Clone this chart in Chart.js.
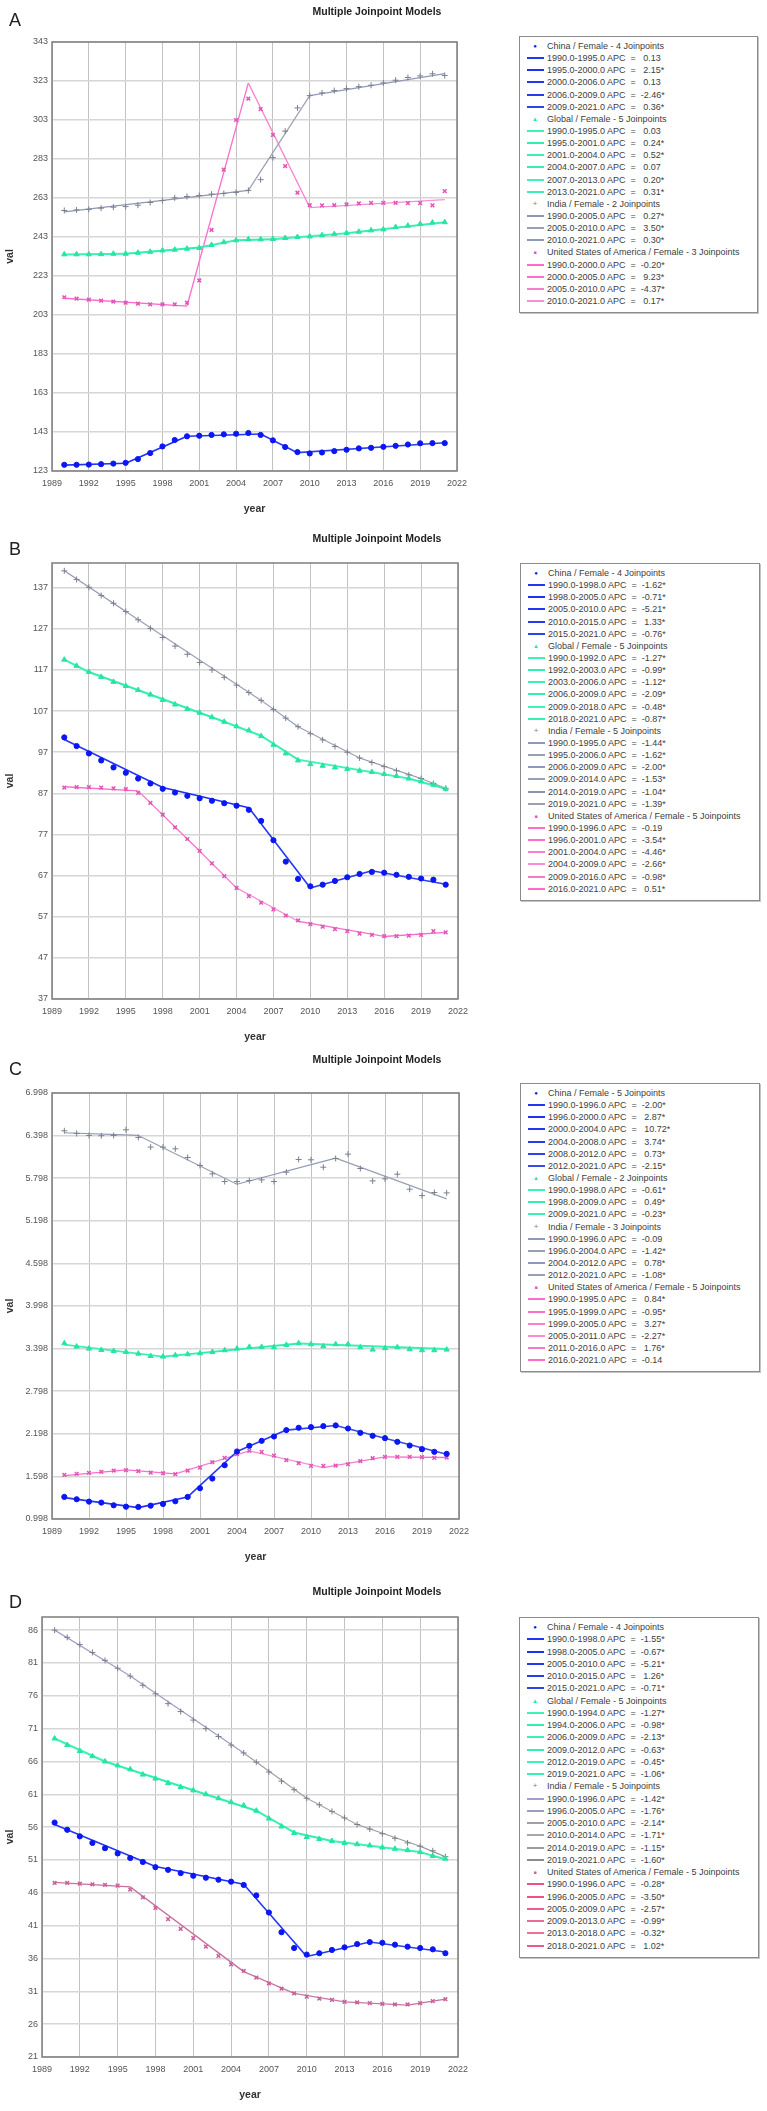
<!DOCTYPE html>
<html>
<head>
<meta charset="utf-8">
<script src="https://cdn.jsdelivr.net/npm/chart.js@4.4.1/dist/chart.umd.min.js"></script>
<style>
body { margin: 0; width: 767px; height: 2111px; background: #fff; position: relative; overflow: hidden;
       font-family: "Liberation Sans", Arial, sans-serif; }
.panel { position: absolute; left: 0; width: 767px; }
.panel canvas { position: absolute; left: 0; top: 0; }
.letter { position: absolute; left: 9px; font-size: 18px; line-height: 18px; color: #222; }
.title { position: absolute; left: 277px; width: 200px; text-align: center; font-weight: bold;
         font-size: 10.5px; line-height: 12px; color: #222; }
.legend { position: absolute; border: 1px solid #8c8c8c; box-shadow: 1px 1px 0 #c4c4c4; background: #fff;
          padding: 3px 0 5px 0; }
.row { position: relative; font-size: 9px; color: #404040; white-space: pre; padding-left: 27px; }
.sw { position: absolute; left: 7px; width: 17px; height: 2px; }
.mk { position: absolute; left: 11px; width: 8px; top: 0; text-align: center; }
</style>
</head>
<body>
<script>
// ---------------- DATA ----------------

const years = [1990,1991,1992,1993,1994,1995,1996,1997,1998,1999,2000,2001,2002,2003,2004,2005,
               2006,2007,2008,2009,2010,2011,2012,2013,2014,2015,2016,2017,2018,2019,2020,2021];
const xTicks = [1989,1992,1995,1998,2001,2004,2007,2010,2013,2016,2019,2022];
const seriesNames = ["China", "Global", "India", "United States of America"];

// A
const aYTicks = [123,143,163,183,203,223,243,263,283,303,323,343];
const aYRange = [123, 343];
const aChina = [126.2,126.2,126.3,126.5,126.8,127.2,129.1,132.2,135.6,138.9,140.8,141.1,141.5,141.8,142.1,142.5,
                141.5,138.7,135.3,132.7,132.0,132.5,133.2,133.9,134.6,134.9,135.4,135.9,136.6,137.2,137.3,137.3];
const aGlobal = [234.1,234.1,234.1,234.2,234.4,234.4,234.9,235.4,236.1,236.5,237.0,237.4,238.9,240.3,241.3,241.8,
                 241.8,242.0,242.5,243.0,243.3,243.9,244.5,245.0,245.7,246.4,246.9,248.1,248.8,249.7,250.4,250.6];
const aIndia = [256.6,256.9,257.2,257.8,258.3,258.6,259.3,260.7,261.7,263.1,263.8,264.3,265.0,265.3,265.9,266.9,
                272.4,283.7,297.3,309.2,315.5,316.9,318.1,319.1,320.1,320.8,322.0,323.4,324.8,325.6,326.7,325.8];
const aUSA = [212.1,211.4,210.9,210.4,209.9,209.3,208.8,208.5,208.5,208.5,209.3,220.7,246.6,277.5,303.0,314.0,
              308.6,295.4,279.4,265.7,259.3,259.2,259.3,259.7,260.2,260.5,260.5,260.5,260.4,260.4,259.2,266.5];
const aChinaFitX = [1990,1995,2000,2006,2009,2021];
const aChinaFitY = [126.0,127.0,140.8,142.0,132.4,137.5];
const aGlobalFitX = [1990,1995,2001,2004,2007,2013,2021];
const aGlobalFitY = [234.0,234.4,237.6,241.3,241.9,244.9,250.6];
const aIndiaFitX = [1990,2005,2010,2021];
const aIndiaFitY = [255.9,266.9,315.5,326.8];
const aUSAFitX = [1990,2000,2005,2010,2021];
const aUSAFitY = [211.6,207.6,322.0,258.1,262.2];
const aChinaApc = ["0.13","2.15*","0.13","-2.46*","0.36*"];
const aGlobalApc = ["0.03","0.24*","0.52*","0.07","0.20*","0.31*"];
const aIndiaApc = ["0.27*","3.50*","0.30*"];
const aUSAApc = ["-0.20*","9.23*","-4.37*","0.17*"];

// B
const bYTicks = [37,47,57,67,77,87,97,107,117,127,137];
const bYRange = [37, 143];
const bChina = [100.6,98.5,96.7,95.0,93.3,92.0,90.6,89.4,88.1,87.2,86.4,85.8,85.2,84.6,84.0,83.0,
                80.3,75.6,70.4,66.2,64.4,64.8,65.7,66.6,67.4,67.9,67.7,67.2,66.7,66.3,66.0,64.8];
const bGlobal = [119.5,118.0,116.5,115.3,114.1,113.1,112.1,111.0,109.7,108.6,107.5,106.6,105.5,104.4,103.3,102.3,
                 100.9,98.8,96.7,95.0,94.1,93.7,93.3,92.9,92.5,92.2,91.7,91.2,90.6,89.9,89.1,88.1];
const bIndia = [141.1,139.0,137.1,135.1,133.2,131.2,129.2,127.1,124.9,122.8,120.8,118.8,117.0,115.2,113.3,111.5,
                109.6,107.4,105.3,103.2,101.5,100.0,98.4,97.0,95.6,94.5,93.5,92.5,91.5,90.6,89.4,88.2];
const bUSA = [88.4,88.5,88.5,88.4,88.2,88.0,87.1,84.7,81.8,78.7,75.9,73.0,70.0,66.9,64.0,62.0,
              60.4,58.8,57.3,56.1,55.2,54.6,54.0,53.5,52.9,52.6,52.3,52.3,52.4,52.6,53.5,53.2];
const bChinaFitX = [1990,1998,2005,2010,2015,2021];
const bChinaFitY = [100.1,88.4,83.5,64.0,68.2,64.9];
const bGlobalFitX = [1990,1992,2003,2006,2009,2018,2021];
const bGlobalFitY = [119.5,116.5,104.4,101.0,95.2,90.6,88.1];
const bIndiaFitX = [1990,1995,2006,2009,2014,2019,2021];
const bIndiaFitY = [141.1,131.2,109.6,103.2,95.6,90.6,88.2];
const bUSAFitX = [1990,1996,2001,2004,2009,2016,2021];
const bUSAFitY = [88.6,87.6,73.0,64.0,55.9,52.2,53.2];
const bChinaApc = ["-1.62*","-0.71*","-5.21*","1.33*","-0.76*"];
const bGlobalApc = ["-1.27*","-0.99*","-1.12*","-2.09*","-0.48*","-0.87*"];
const bIndiaApc = ["-1.44*","-1.62*","-2.00*","-1.53*","-1.04*","-1.39*"];
const bUSAApc = ["-0.19","-3.54*","-4.46*","-2.66*","-0.98*","0.51*"];

// C
const cYTicks = [0.998,1.598,2.198,2.798,3.398,3.998,4.598,5.198,5.798,6.398,6.998];
const cYRange = [0.998, 6.998];
const cChina = [1.309,1.276,1.243,1.229,1.191,1.172,1.168,1.186,1.210,1.248,1.309,1.431,1.568,1.756,1.949,2.029,
                2.099,2.160,2.250,2.283,2.292,2.306,2.316,2.273,2.212,2.170,2.137,2.085,2.033,1.982,1.944,1.916];
const cGlobal = [3.473,3.426,3.398,3.379,3.365,3.351,3.327,3.294,3.285,3.304,3.318,3.332,3.351,3.375,3.398,3.422,
                 3.422,3.417,3.450,3.473,3.459,3.431,3.459,3.459,3.417,3.384,3.403,3.417,3.389,3.375,3.375,3.384];
const cIndia = [6.466,6.429,6.400,6.396,6.400,6.480,6.372,6.236,6.236,6.212,6.090,5.977,5.859,5.751,5.751,5.765,
                5.774,5.751,5.883,6.062,6.057,5.953,6.076,6.137,5.935,5.760,5.789,5.854,5.643,5.553,5.596,5.591];
const cUSA = [1.619,1.633,1.648,1.662,1.681,1.685,1.671,1.652,1.643,1.629,1.681,1.723,1.798,1.859,1.911,1.958,
              1.944,1.892,1.826,1.784,1.746,1.746,1.751,1.770,1.812,1.854,1.873,1.873,1.873,1.869,1.859,1.864];
const cChinaFitX = [1990,1996,2000,2004,2008,2012,2021];
const cChinaFitY = [1.299,1.158,1.309,1.949,2.250,2.316,1.911];
const cGlobalFitX = [1990,1998,2009,2021];
const cGlobalFitY = [3.454,3.285,3.469,3.393];
const cIndiaFitX = [1990,1996,2004,2012,2021];
const cIndiaFitY = [6.438,6.400,5.713,6.080,5.506];
const cUSAFitX = [1990,1995,1999,2005,2011,2016,2021];
const cUSAFitY = [1.610,1.690,1.633,1.958,1.723,1.873,1.864];
const cChinaApc = ["-2.00*","2.87*","10.72*","3.74*","0.73*","-2.15*"];
const cGlobalApc = ["-0.61*","0.49*","-0.23*"];
const cIndiaApc = ["-0.09","-1.42*","0.78*","-1.08*"];
const cUSAApc = ["0.84*","-0.95*","3.27*","-2.27*","1.76*","-0.14"];

// D
const dYTicks = [21,26,31,36,41,46,51,56,61,66,71,76,81,86];
const dYRange = [21, 88];
const dChina = [56.7,55.6,54.6,53.6,52.8,52.0,51.3,50.7,49.9,49.5,49.0,48.6,48.3,48.0,47.7,47.2,
                45.6,43.0,40.0,37.6,36.6,36.8,37.3,37.7,38.2,38.5,38.4,38.1,37.8,37.6,37.4,36.8];
const dGlobal = [69.5,68.5,67.6,66.8,66.0,65.4,64.8,64.0,63.4,62.7,62.1,61.6,61.0,60.4,59.8,59.3,
                 58.5,57.3,56.1,55.1,54.5,54.2,53.9,53.6,53.4,53.2,52.9,52.7,52.5,52.2,51.6,51.2];
const dIndia = [86.0,84.9,83.8,82.6,81.4,80.2,79.0,77.6,76.3,74.8,73.6,72.3,71.0,69.8,68.5,67.3,
                65.9,64.4,63.0,61.7,60.4,59.4,58.4,57.4,56.4,55.7,55.0,54.3,53.6,53.1,52.4,51.5];
const dUSA = [47.5,47.5,47.4,47.3,47.2,47.1,46.5,45.3,43.7,42.0,40.5,39.1,37.8,36.4,35.1,34.1,
              33.1,32.2,31.4,30.7,30.2,29.9,29.7,29.4,29.3,29.2,29.1,29.0,29.0,29.2,29.5,29.8];
const dChinaFitX = [1990,1998,2005,2010,2015,2021];
const dChinaFitY = [56.4,50.0,47.3,36.3,38.5,37.0];
const dGlobalFitX = [1990,1994,2006,2009,2012,2019,2021];
const dGlobalFitY = [69.5,66.0,58.5,55.2,53.9,52.2,51.1];
const dIndiaFitX = [1990,1996,2005,2010,2014,2019,2021];
const dIndiaFitY = [86.0,79.0,67.3,60.4,56.4,53.1,51.5];
const dUSAFitX = [1990,1996,2005,2009,2013,2018,2021];
const dUSAFitY = [47.6,46.9,34.0,30.7,29.4,28.9,29.8];
const dChinaApc = ["-1.55*","-0.67*","-5.21*","1.26*","-0.71*"];
const dGlobalApc = ["-1.27*","-0.98*","-2.13*","-0.63*","-0.45*","-1.06*"];
const dIndiaApc = ["-1.42*","-1.76*","-2.14*","-1.71*","-1.15*","-1.60*"];
const dUSAApc = ["-0.28*","-3.50*","-2.57*","-0.99*","-0.32*","1.02*"];

// ---------------- STYLE ----------------

const CW = 480;
const layoutOf = {
  A: { top: 0,    h: 530, plot: [52, 42, 457, 471], yearPad: 15, titleY: 11.3, letterY: 11.2, legend: [519, 36, 239], rowH: 12.15 },
  B: { top: 530,  h: 530, plot: [52, 33, 458, 469], yearPad: 17, titleY: 8,    letterY: 9.7,  legend: [520, 33, 240], rowH: 12.15 },
  C: { top: 1060, h: 530, plot: [52, 33, 459, 459], yearPad: 27, titleY: -1.5, letterY: -0.3, legend: [520, 23, 240], rowH: 12.15 },
  D: { top: 1590, h: 521, plot: [42, 27, 458, 467], yearPad: 10, titleY: 1,    letterY: 2.7,  legend: [519, 27, 240], rowH: 12.25 }
};

const markStyle = [
  { pointStyle: "circle",   radius: 2.6, width: 1 },
  { pointStyle: "triangle", radius: 3,   width: 1 },
  { pointStyle: "cross",    radius: 3,   width: 1 },
  { pointStyle: "crossRot", radius: 2.6, width: 1.5 }
];
const lineWidths = [1.6, 2, 1.2, 1.3];
const glyphs = ["\u25CF", "\u25B2", "+", "\u25A0"];
const glyphSize = ["6px", "6px", "8px", "5px"];

const blues = ["#2436f2", "#1f30f5", "#2436f2", "#2a3bee", "#3142e8", "#3a4ae4"];
const mints = ["#3df2b6", "#30f0b0", "#3af0b4", "#35eeb0", "#3ff2b8", "#3aefb2"];
const greys = ["#8f97b1", "#9aa0b2", "#8e9ab8", "#9aa0b4", "#8c92aa", "#9aa0b0"];
const pinks = ["#ff6acb", "#fb6fcc", "#f77fce", "#f590d6", "#f27ccc", "#ff6acb"];
const roses = ["#f0508a", "#f0508a", "#ee5e8a", "#e86a9a", "#f0709c", "#ee5a8a"];
const mauves = ["#c8709e", "#c8709e", "#c4789f", "#c27ca4", "#c67aa2", "#c8709e"];
const greysD = ["#a0a0c8", "#9c9cc4", "#a0a0a0", "#a8a8a8", "#9c9c9c", "#8c8c8c"];

// ---------------- PANELS ----------------

const panels = [
  { id: "A", yTicks: aYTicks, yRange: aYRange,
    obs: [aChina, aGlobal, aIndia, aUSA],
    fitX: [aChinaFitX, aGlobalFitX, aIndiaFitX, aUSAFitX],
    fitY: [aChinaFitY, aGlobalFitY, aIndiaFitY, aUSAFitY],
    apc: [aChinaApc, aGlobalApc, aIndiaApc, aUSAApc],
    marks: ["#0b17f2", "#26e6a0", "#7c7f8f", "#e055b5"],
    segs: [blues, mints, greys, pinks], lines: [blues, mints, greys, pinks] },
  { id: "B", yTicks: bYTicks, yRange: bYRange,
    obs: [bChina, bGlobal, bIndia, bUSA],
    fitX: [bChinaFitX, bGlobalFitX, bIndiaFitX, bUSAFitX],
    fitY: [bChinaFitY, bGlobalFitY, bIndiaFitY, bUSAFitY],
    apc: [bChinaApc, bGlobalApc, bIndiaApc, bUSAApc],
    marks: ["#0b17f2", "#26e6a0", "#7c7f8f", "#e055b5"],
    segs: [blues, mints, greys, pinks], lines: [blues, mints, greys, pinks] },
  { id: "C", yTicks: cYTicks, yRange: cYRange,
    obs: [cChina, cGlobal, cIndia, cUSA],
    fitX: [cChinaFitX, cGlobalFitX, cIndiaFitX, cUSAFitX],
    fitY: [cChinaFitY, cGlobalFitY, cIndiaFitY, cUSAFitY],
    apc: [cChinaApc, cGlobalApc, cIndiaApc, cUSAApc],
    marks: ["#0b17f2", "#26e6a0", "#7c7f8f", "#e055b5"],
    segs: [blues, mints, greys, pinks], lines: [blues, mints, greys, pinks] },
  { id: "D", yTicks: dYTicks, yRange: dYRange,
    obs: [dChina, dGlobal, dIndia, dUSA],
    fitX: [dChinaFitX, dGlobalFitX, dIndiaFitX, dUSAFitX],
    fitY: [dChinaFitY, dGlobalFitY, dIndiaFitY, dUSAFitY],
    apc: [dChinaApc, dGlobalApc, dIndiaApc, dUSAApc],
    marks: ["#0b17f2", "#26e6a0", "#7c7f8f", "#c8609a"],
    segs: [blues, mints, greysD, roses], lines: [blues, mints, greysD, mauves] }
];

Chart.defaults.font.family = '"Liberation Sans", Arial, sans-serif';

const framePlugin = {
  id: "frame",
  afterDatasetsDraw(chart) {
    const { ctx, chartArea: a } = chart;
    ctx.save();
    ctx.strokeStyle = "#7d7d7d";
    ctx.lineWidth = 1.5;
    ctx.strokeRect(a.left, a.top, a.right - a.left, a.bottom - a.top);
    ctx.restore();
  }
};

function buildLegend(box, p, rowH) {
  p.obs.forEach((_, i) => {
    const fx = p.fitX[i];
    const head = document.createElement("div");
    head.className = "row";
    head.style.height = rowH + "px";
    head.style.lineHeight = rowH + "px";
    const mk = document.createElement("span");
    mk.className = "mk";
    mk.style.color = p.marks[i];
    mk.style.fontSize = glyphSize[i];
    mk.textContent = glyphs[i];
    head.appendChild(mk);
    head.appendChild(document.createTextNode(seriesNames[i] + " / Female - " + (fx.length - 2) + " Joinpoints"));
    box.appendChild(head);

    p.apc[i].forEach((a, k) => {
      const row = document.createElement("div");
      row.className = "row";
      row.style.height = rowH + "px";
      row.style.lineHeight = rowH + "px";
      const sw = document.createElement("span");
      sw.className = "sw";
      sw.style.background = p.segs[i][k];
      sw.style.top = (rowH / 2 - 1) + "px";
      row.appendChild(sw);
      const sign = a.startsWith("-") ? "" : " ";
      row.appendChild(document.createTextNode(
        fx[k].toFixed(1) + "-" + fx[k + 1].toFixed(1) + " APC  =  " + sign + a));
      box.appendChild(row);
    });
  });
}

panels.forEach(p => {
  const g = layoutOf[p.id];
  const wrap = document.createElement("div");
  wrap.className = "panel";
  wrap.style.top = g.top + "px";
  wrap.style.height = g.h + "px";
  document.body.appendChild(wrap);

  const cv = document.createElement("canvas");
  cv.width = CW;
  cv.height = g.h;
  cv.style.width = CW + "px";
  cv.style.height = g.h + "px";
  wrap.appendChild(cv);

  const letter = document.createElement("div");
  letter.className = "letter";
  letter.style.top = g.letterY + "px";
  letter.textContent = p.id;
  wrap.appendChild(letter);

  const title = document.createElement("div");
  title.className = "title";
  title.style.top = (g.titleY - 6) + "px";
  title.textContent = "Multiple Joinpoint Models";
  wrap.appendChild(title);

  const box = document.createElement("div");
  box.className = "legend";
  box.style.left = g.legend[0] + "px";
  box.style.top = g.legend[1] + "px";
  box.style.width = (g.legend[2] - 2) + "px";
  wrap.appendChild(box);
  buildLegend(box, p, g.rowH);

  const datasets = [];
  p.obs.forEach((vals, i) => {
    datasets.push({
      label: seriesNames[i],
      data: years.map((x, j) => ({ x: x, y: vals[j] })),
      showLine: false,
      pointStyle: markStyle[i].pointStyle,
      pointRadius: markStyle[i].radius,
      pointBorderWidth: markStyle[i].width,
      backgroundColor: p.marks[i],
      borderColor: p.marks[i],
      order: 0
    });
  });
  p.fitY.forEach((vals, i) => {
    const segs = p.lines[i];
    datasets.push({
      label: seriesNames[i] + " fit",
      data: p.fitX[i].map((x, j) => ({ x: x, y: vals[j] })),
      showLine: true,
      pointRadius: 0,
      borderWidth: lineWidths[i],
      borderColor: segs[0],
      segment: { borderColor: c => segs[c.p0DataIndex] },
      tension: 0,
      order: 1
    });
  });

  const [pl, pt, pr, pb] = g.plot;

  new Chart(cv, {
    type: "line",
    data: { datasets: datasets },
    plugins: [framePlugin],
    options: {
      responsive: false,
      animation: false,
      events: [],
      layout: { padding: { left: 0, top: pt, right: CW - pr, bottom: 0 } },
      plugins: { legend: { display: false }, tooltip: { enabled: false } },
      scales: {
        x: {
          type: "linear",
          min: xTicks[0],
          max: xTicks[xTicks.length - 1],
          afterBuildTicks: axis => { axis.ticks = xTicks.map(v => ({ value: v })); },
          afterFit: axis => { axis.height = g.h - pb; },
          border: { display: false },
          grid: { color: "#c2c2c2", lineWidth: 1, drawTicks: false },
          ticks: { color: "#555", font: { size: 9 }, padding: 7, maxRotation: 0, autoSkip: false,
                   callback: v => String(v) },
          title: { display: true, text: "year", color: "#333", font: { size: 10.5, weight: "bold" },
                   padding: { top: 4, bottom: g.yearPad } }
        },
        y: {
          type: "linear",
          min: p.yRange[0],
          max: p.yRange[1],
          afterBuildTicks: axis => { axis.ticks = p.yTicks.map(v => ({ value: v })); },
          afterFit: axis => { axis.width = pl; },
          border: { display: false },
          grid: { color: "#d6d6d6", lineWidth: 1.5, drawTicks: false },
          ticks: { color: "#555", font: { size: 9 }, padding: 4, autoSkip: false,
                   callback: v => String(v) },
          title: { display: true, text: "val", color: "#333", font: { size: 10.5, weight: "bold" },
                   padding: { top: 4, bottom: 0 } }
        }
      }
    }
  });
});
</script>
</body>
</html>
